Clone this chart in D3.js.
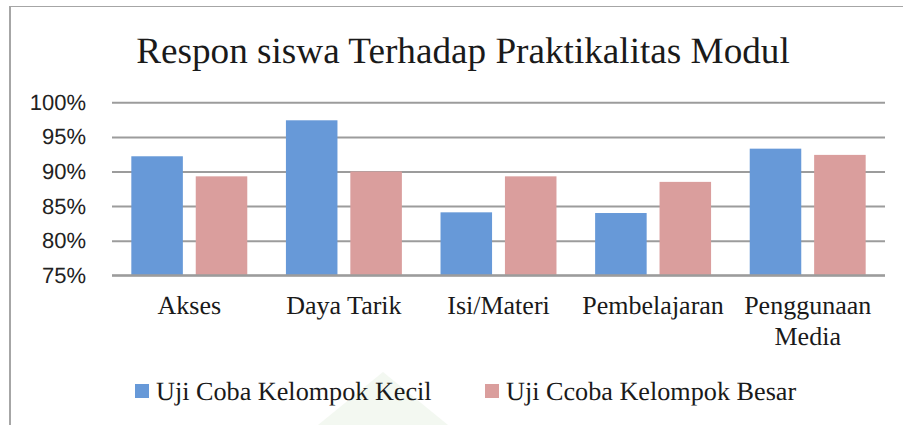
<!DOCTYPE html>
<html>
<head>
<meta charset="utf-8">
<script src="https://cdn.jsdelivr.net/npm/d3@7"></script>
<style>
  html, body { margin: 0; padding: 0; background: #fff; }
  svg { display: block; }
  text { text-rendering: geometricPrecision; }
</style>
</head>
<body>
<svg id="chart" width="903" height="425"></svg>
<script>
const title = "Respon siswa Terhadap Praktikalitas Modul";
const categories = ["Akses", "Daya Tarik", "Isi/Materi", "Pembelajaran", "Penggunaan Media"];
const seriesNames = ["Uji Coba Kelompok Kecil", "Uji Ccoba Kelompok Besar"];
const kecil = [92.2, 97.4, 84.1, 84.0, 93.3];
const besar = [89.3, 90.0, 89.3, 88.5, 92.4];
const yTicks = [75, 80, 85, 90, 95, 100];
const colors = ["#6799d8", "#da9e9d"];

const svg = d3.select("#chart");
const W = 903, H = 425;
const m = { left: 112, right: 885, top: 102.3, bottom: 275.3 };

// faint watermark
svg.append("path")
  .attr("d", "M383,372 L318,425 L448,425 Z")
  .attr("fill", "#f3f8f1");

// frame
svg.append("line").attr("x1", 10).attr("x2", 10).attr("y1", 6).attr("y2", H)
  .attr("stroke", "#a6a6a6").attr("stroke-width", 2);
svg.append("line").attr("x1", 9).attr("x2", W).attr("y1", 6.5).attr("y2", 6.5)
  .attr("stroke", "#a6a6a6").attr("stroke-width", 1.2);

const serif = "'Liberation Serif', 'Times New Roman', serif";

// title
svg.append("text")
  .attr("x", 463).attr("y", 63)
  .attr("text-anchor", "middle")
  .attr("font-family", serif)
  .attr("font-size", 37.2)
  .attr("fill", "#1a1a1a")
  .text(title);

const x0 = d3.scaleBand().domain(categories).range([m.left, m.right]).padding(0);
const x1 = d3.scaleBand().domain(seriesNames).range([0, x0.bandwidth()])
  .paddingInner(0.2).paddingOuter(0.3);
const y = d3.scaleLinear().domain([75, 100]).range([m.bottom, m.top]);

// gridlines
const grid = svg.append("g").attr("transform", `translate(${m.left},0)`)
  .call(d3.axisLeft(y).tickValues(yTicks).tickSize(-(m.right - m.left)).tickFormat(""));
grid.select(".domain").remove();
grid.selectAll(".tick line").attr("stroke", "#9c9c9c").attr("stroke-width", 2);

// y labels
const yAxis = svg.append("g").attr("transform", `translate(86,0)`)
  .call(d3.axisLeft(y).tickValues(yTicks).tickSize(0).tickPadding(0).tickFormat(d => d + "%"));
yAxis.select(".domain").remove();
yAxis.selectAll("text")
  .attr("font-family", "'Liberation Sans', Arial, sans-serif")
  .attr("font-size", 22)
  .attr("fill", "#222");

// bars
const data = categories.map((c, i) => ({ cat: c, vals: [kecil[i], besar[i]] }));
const groups = svg.append("g").selectAll("g").data(data).join("g")
  .attr("transform", d => `translate(${x0(d.cat)},0)`);
groups.selectAll("rect")
  .data(d => d.vals.map((v, j) => ({ s: seriesNames[j], v, j })))
  .join("rect")
  .attr("x", d => x1(d.s))
  .attr("width", x1.bandwidth())
  .attr("y", d => y(d.v))
  .attr("height", d => y(75) - y(d.v))
  .attr("fill", d => colors[d.j]);

// baseline axis line
svg.append("line").attr("x1", m.left).attr("x2", m.right)
  .attr("y1", y(75)).attr("y2", y(75))
  .attr("stroke", "#9c9c9c").attr("stroke-width", 2);

// category labels
const xAxis = svg.append("g").attr("transform", `translate(0,${y(75)})`)
  .call(d3.axisBottom(x0).tickSize(0).tickFormat(""));
xAxis.select(".domain").remove();
xAxis.selectAll(".tick").each(function(d) {
  const words = d === "Penggunaan Media" ? ["Penggunaan", "Media"] : [d];
  const g = d3.select(this);
  words.forEach((w, k) => {
    g.append("text")
      .attr("x", 0).attr("y", 39 + k * 31)
      .attr("text-anchor", "middle")
      .attr("font-family", serif)
      .attr("font-size", 26)
      .attr("fill", "#1a1a1a")
      .text(w);
  });
});

// legend
const legendPos = [{ sq: 135, tx: 156 }, { sq: 485, tx: 506 }];
const lg = svg.append("g");
seriesNames.forEach((s, i) => {
  lg.append("rect").attr("x", legendPos[i].sq).attr("y", 384)
    .attr("width", 14).attr("height", 14).attr("fill", colors[i]);
  lg.append("text").attr("x", legendPos[i].tx).attr("y", 400)
    .attr("font-family", serif)
    .attr("font-size", 26.2)
    .attr("fill", "#1a1a1a")
    .text(s);
});
</script>
</body>
</html>
